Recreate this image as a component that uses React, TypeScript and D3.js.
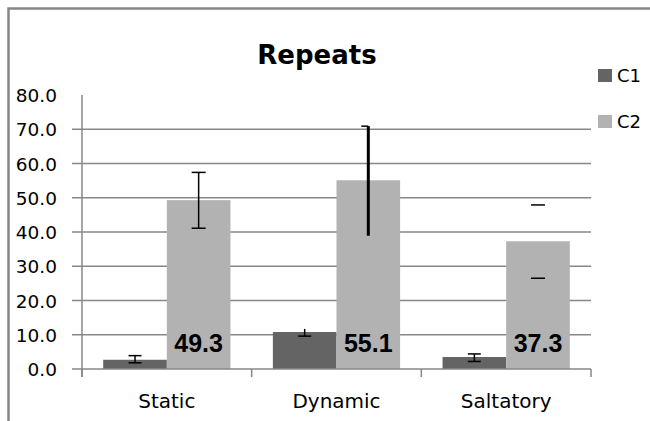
import React from "react";
import * as d3 from "d3";

const categories = ["Static", "Dynamic", "Saltatory"];
const seriesNames = ["C1", "C2"];
const c1Values = [2.7, 10.8, 3.5];
const c2Values = [49.3, 55.1, 37.3];
const c1ErrHigh = [3.9, 11.7, 4.4];
const c1ErrLow = [1.8, 9.6, 2.2];
const c2ErrHigh = [57.4, 70.9, 47.9];
const c2ErrLow = [41.1, 38.9, 26.5];
const yTicks = [0, 10, 20, 30, 40, 50, 60, 70, 80];
const title = "Repeats";

// error-bar drawing modes (as seen in the reference)
const c1ErrMode = ["both", "bottom", "both"];
const c2ErrMode = ["both", "topHalf", "capsOnly"];
const c2ErrWidth = [1.5, 3, 1.5];

const W = 650;
const H = 421;
const plot = { left: 82, right: 591, top: 95, bottom: 369 };
const colors = ["#646464", "#b2b2b2"];
const gridColor = "#878787";

export default function App() {
  const y = d3.scaleLinear().domain([0, 80]).range([plot.bottom, plot.top]);
  const x0 = d3.scaleBand<string>().domain(categories).range([plot.left, plot.right]).padding(0);
  const bw = x0.bandwidth();
  const x1 = d3.scaleBand<string>().domain(seriesNames).range([0, bw * 0.75]).padding(0);
  const offset = bw * 0.125;
  const values = [c1Values, c2Values];
  const errHi = [c1ErrHigh, c2ErrHigh];
  const errLo = [c1ErrLow, c2ErrLow];
  const modes = [c1ErrMode, c2ErrMode];
  const fmt = d3.format(".1f");

  const errorBar = (cx: number, hi: number, lo: number, mode: string, sw: number, capW: number, key: string) => {
    const yh = y(hi);
    const yl = y(lo);
    const els: React.ReactNode[] = [];
    if (mode !== "capsOnly") {
      els.push(<line key="v" x1={cx} x2={cx} y1={yh} y2={yl} stroke="#000" strokeWidth={sw} />);
    }
    if (mode === "both" || mode === "capsOnly") {
      els.push(<line key="t" x1={cx - capW / 2} x2={cx + capW / 2} y1={yh} y2={yh} stroke="#000" strokeWidth={1.5} />);
      els.push(<line key="b" x1={cx - capW / 2} x2={cx + capW / 2} y1={yl} y2={yl} stroke="#000" strokeWidth={1.5} />);
    } else if (mode === "bottom") {
      els.push(<line key="b" x1={cx - capW / 2} x2={cx + capW / 2} y1={yl} y2={yl} stroke="#000" strokeWidth={1.5} />);
    } else if (mode === "topHalf") {
      els.push(<line key="t" x1={cx - capW / 2} x2={cx} y1={yh} y2={yh} stroke="#000" strokeWidth={1.5} />);
    }
    return <g key={key}>{els}</g>;
  };

  return (
    <div style={{ position: "absolute", left: 0, top: 0 }}>
      <svg width={W} height={H} style={{ display: "block", background: "#fff" }}>
        <rect x={0} y={0} width={W} height={H} fill="#fff" />
        {/* outer chart border */}
        <path d={`M8.5,${H} L8.5,8.5 L${W},8.5`} fill="none" stroke={gridColor} strokeWidth={2.5} />

        {/* title */}
        <text x={317} y={64} textAnchor="middle" fontFamily="DejaVu Sans" fontWeight="bold" fontSize={26} fill="#000">
          {title}
        </text>

        {/* gridlines */}
        {yTicks.filter((t) => t > 0 && t < 80).map((t) => (
          <line key={t} x1={plot.left} x2={plot.right} y1={y(t)} y2={y(t)} stroke={gridColor} strokeWidth={1.5} />
        ))}

        {/* y axis */}
        <line x1={plot.left} x2={plot.left} y1={plot.top} y2={plot.bottom + 8} stroke={gridColor} strokeWidth={1.5} />
        {yTicks.filter((t) => t < 80).map((t) => (
          <line key={t} x1={plot.left - 10} x2={plot.left} y1={y(t)} y2={y(t)} stroke={gridColor} strokeWidth={1.5} />
        ))}
        {yTicks.map((t) => (
          <text key={t} x={57} y={y(t) + 7} textAnchor="end" fontFamily="DejaVu Sans" fontSize={18.5} fill="#000">
            {fmt(t)}
          </text>
        ))}

        {/* bars */}
        {categories.map((c, i) => (
          <g key={c}>
            {seriesNames.map((s, j) => (
              <rect
                key={s}
                x={(x0(c) ?? 0) + offset + (x1(s) ?? 0)}
                y={y(values[j][i])}
                width={x1.bandwidth()}
                height={y(0) - y(values[j][i])}
                fill={colors[j]}
              />
            ))}
          </g>
        ))}

        {/* x axis */}
        <line x1={plot.left} x2={plot.right} y1={plot.bottom} y2={plot.bottom} stroke={gridColor} strokeWidth={1.5} />
        {[...categories.map((c) => x0(c) ?? 0), plot.right].map((xx, k) => (
          <line key={k} x1={xx} x2={xx} y1={plot.bottom} y2={plot.bottom + 8} stroke={gridColor} strokeWidth={1.5} />
        ))}
        {categories.map((c) => (
          <text key={c} x={(x0(c) ?? 0) + bw / 2} y={408} textAnchor="middle" fontFamily="DejaVu Sans" fontSize={20} fill="#000">
            {c}
          </text>
        ))}

        {/* data labels for C2 */}
        {categories.map((c, i) => (
          <text
            key={c}
            x={(x0(c) ?? 0) + offset + (x1("C2") ?? 0) + x1.bandwidth() / 2}
            y={351.5}
            textAnchor="middle"
            fontFamily="Liberation Sans, Arial"
            fontWeight="bold"
            fontSize={25}
            fill="#000"
          >
            {fmt(c2Values[i])}
          </text>
        ))}

        {/* error bars */}
        {categories.map((c, i) =>
          seriesNames.map((s, j) => {
            const cx = (x0(c) ?? 0) + offset + (x1(s) ?? 0) + x1.bandwidth() / 2;
            const sw = j === 1 ? c2ErrWidth[i] : 1.5;
            const capW = j === 1 ? 14 : 13;
            return errorBar(cx, errHi[j][i], errLo[j][i], modes[j][i], sw, capW, `${c}-${s}`);
          })
        )}

        {/* legend */}
        {seriesNames.map((s, j) => (
          <g key={s} transform={`translate(598, ${69 + j * 46})`}>
            <rect x={0} y={0} width={14} height={13} fill={colors[j]} />
            <text x={19} y={13} fontFamily="DejaVu Sans" fontSize={18} fill="#000">
              {s}
            </text>
          </g>
        ))}
      </svg>
    </div>
  );
}
